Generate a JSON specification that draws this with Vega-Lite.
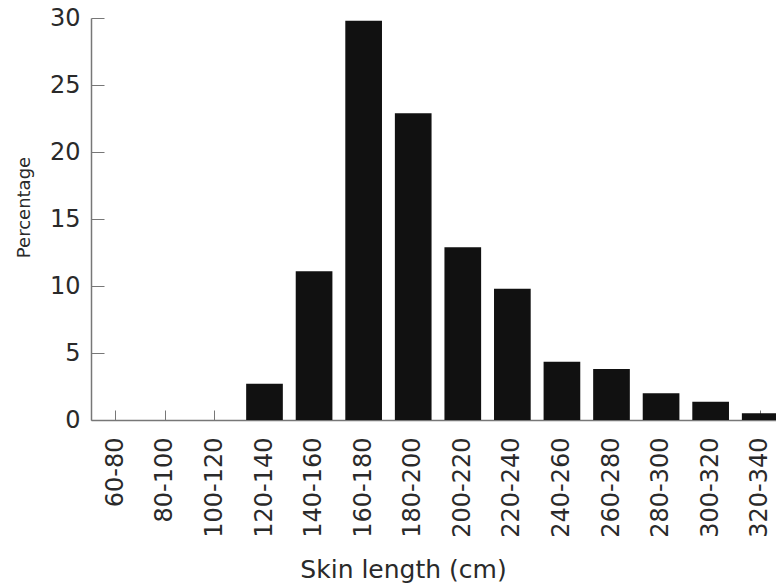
{
  "$schema": "https://vega.github.io/schema/vega-lite/v6.json",
  "autosize": "none",
  "width": 694,
  "height": 402,
  "padding": {"left": 91, "top": 18, "right": 0, "bottom": 167},
  "background": "white",
  "config": {
    "view": {"stroke": null},
    "font": "DejaVu Sans"
  },
  "data": {
    "values": [
      {"bin": "60-80", "pct": 0},
      {"bin": "80-100", "pct": 0},
      {"bin": "100-120", "pct": 0},
      {"bin": "120-140", "pct": 2.7},
      {"bin": "140-160", "pct": 11.1},
      {"bin": "160-180", "pct": 29.8},
      {"bin": "180-200", "pct": 22.9},
      {"bin": "200-220", "pct": 12.9},
      {"bin": "220-240", "pct": 9.8},
      {"bin": "240-260", "pct": 4.35},
      {"bin": "260-280", "pct": 3.8},
      {"bin": "280-300", "pct": 2.0},
      {"bin": "300-320", "pct": 1.37},
      {"bin": "320-340", "pct": 0.5}
    ]
  },
  "mark": {"type": "bar", "color": "#111111"},
  "encoding": {
    "x": {
      "field": "bin",
      "type": "nominal",
      "sort": null,
      "scale": {"paddingInner": 0.26, "paddingOuter": 0.13},
      "axis": {
        "title": "Skin length (cm)",
        "labelAngle": -90,
        "labelAlign": "right",
        "labelBaseline": "middle",
        "labelFontSize": 24,
        "labelColor": "#2a2a2a",
        "labelPadding": 27,
        "tickSize": -10,
        "tickColor": "#777777",
        "domainColor": "#777777",
        "domainWidth": 1.5,
        "titleFontSize": 25,
        "titleFontWeight": "normal",
        "titleColor": "#2a2a2a",
        "titleBaseline": "top",
        "titleAlign": "center",
        "titleX": 312,
        "titleY": 137
      }
    },
    "y": {
      "field": "pct",
      "type": "quantitative",
      "scale": {"domain": [0, 30], "nice": false},
      "axis": {
        "title": "Percentage",
        "values": [0, 5, 10, 15, 20, 25, 30],
        "grid": false,
        "labelFontSize": 24,
        "labelColor": "#2a2a2a",
        "labelPadding": 24,
        "tickSize": -13,
        "tickColor": "#777777",
        "domainColor": "#777777",
        "domainWidth": 1.5,
        "titleFontSize": 18,
        "titleFontWeight": "normal",
        "titleColor": "#2a2a2a",
        "titleAngle": -90,
        "titleAlign": "center",
        "titleBaseline": "middle",
        "titleX": -67,
        "titleY": 189
      }
    }
  }
}
